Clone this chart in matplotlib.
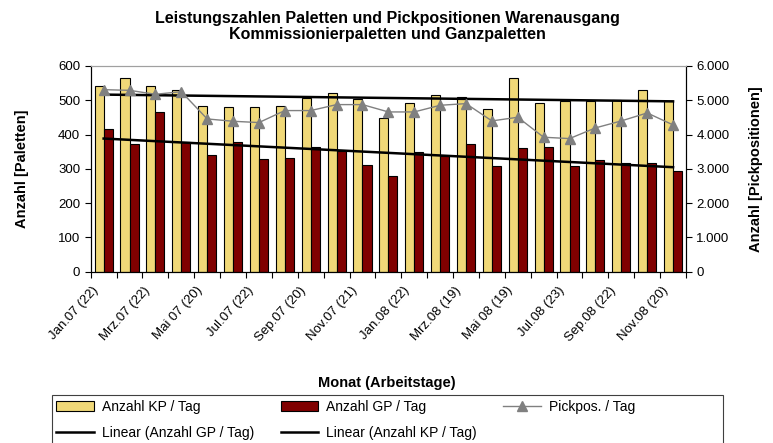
import matplotlib
matplotlib.use("Agg")
import matplotlib.pyplot as plt
import numpy as np
from matplotlib.patches import Rectangle
from matplotlib.ticker import FuncFormatter

plt.rcParams['font.family'] = ['Liberation Sans', 'DejaVu Sans']

# Daten
monate = ["Jan.07 (22)", "Feb.07", "Mrz.07 (22)", "Apr.07", "Mai 07 (20)", "Jun.07",
          "Jul.07 (22)", "Aug.07", "Sep.07 (20)", "Okt.07", "Nov.07 (21)", "Dez.07",
          "Jan.08 (22)", "Feb.08", "Mrz.08 (19)", "Apr.08", "Mai 08 (19)", "Jun.08",
          "Jul.08 (23)", "Aug.08", "Sep.08 (22)", "Okt.08", "Nov.08 (20)"]
kp = [542, 565, 542, 530, 482, 479, 479, 482, 508, 522, 503, 449,
      492, 516, 509, 475, 565, 492, 498, 498, 500, 529, 498]
gp = [415, 373, 466, 379, 339, 377, 330, 333, 365, 351, 310, 280,
      349, 337, 372, 307, 360, 365, 307, 326, 318, 318, 295]
pick = [5310, 5290, 5175, 5250, 4456, 4388, 4350, 4700, 4700, 4874, 4874, 4660,
        4660, 4854, 4903, 4398, 4505, 3922, 3883, 4194, 4398, 4631, 4282]

W, H = 773, 443
fig = plt.figure(figsize=(W / 100, H / 100), dpi=100)
ax = fig.add_axes([90.7 / W, 1 - 271.7 / H, (686 - 90.7) / W, (271.7 - 66) / H])

x = np.arange(len(monate))
bw = 0.35
b_kp = ax.bar(x - bw / 2, kp, bw, color='#F0D878', edgecolor='black', linewidth=0.8,
              label='Anzahl KP / Tag', zorder=2)
b_gp = ax.bar(x + bw / 2, gp, bw, color='#800000', edgecolor='black', linewidth=0.8,
              label='Anzahl GP / Tag', zorder=2)

# lineare Trends
k1 = np.polyfit(x, gp, 1)
k2 = np.polyfit(x, kp, 1)
lgp, = ax.plot(x, np.polyval(k1, x), color='black', lw=1.8, zorder=4,
               label='Linear (Anzahl GP / Tag)')
lkp, = ax.plot(x, np.polyval(k2, x), color='black', lw=1.8, zorder=4,
               label='Linear (Anzahl KP / Tag)')

ax.set_ylim(0, 600)
ax.set_xlim(-0.5, len(monate) - 0.5)
ax.set_yticks(range(0, 601, 100))

ax2 = ax.twinx()
lp, = ax2.plot(x, pick, color='#808080', lw=1.0, marker='^', markersize=7,
               markerfacecolor='#808080', markeredgecolor='#808080',
               label='Pickpos. / Tag', zorder=5)
ax2.set_ylim(0, 6000)
ax2.set_yticks(range(0, 6001, 1000))
ax2.yaxis.set_major_formatter(FuncFormatter(lambda v, p: f"{int(v):,}".replace(",", ".")))

# Beschriftung jeden zweiten Monat, etwas links vom Kategorienmittelpunkt
ax.set_xticks(x[::2] - 0.45)
ax.set_xticklabels(monate[::2], rotation=48, ha='right', rotation_mode='anchor', fontsize=9.5)
ax.set_xticks(np.arange(-0.5, len(monate)), minor=True)
ax.tick_params(axis='x', which='major', length=0, pad=9)
ax.tick_params(axis='x', which='minor', length=4, width=0.8)
ax.tick_params(axis='y', length=4, width=0.8, labelsize=9.5)
ax2.tick_params(axis='y', length=4, width=0.8, labelsize=9.5)

for a in (ax, ax2):
    a.spines['top'].set_color('#A0A0A0')
    a.spines['top'].set_linewidth(0.8)
    for s in ('left', 'right', 'bottom'):
        a.spines[s].set_linewidth(0.8)

ax.set_ylabel('Anzahl [Paletten]', fontsize=10.5, fontweight='bold')
ax2.set_ylabel('Anzahl [Pickpositionen]', fontsize=10.5, fontweight='bold')
ax.yaxis.set_label_coords((29 - 90.7) / (686 - 90.7), 0.5)
ax2.yaxis.set_label_coords((749 - 90.7) / (686 - 90.7), 0.5)

fig.text(387 / W, 1 - 18 / H, 'Leistungszahlen Paletten und Pickpositionen Warenausgang',
         ha='center', va='center', fontsize=11.5, fontweight='bold')
fig.text(387 / W, 1 - 35 / H, 'Kommissionierpaletten und Ganzpaletten',
         ha='center', va='center', fontsize=11.5, fontweight='bold')
fig.text(387 / W, 1 - 383 / H, 'Monat (Arbeitstage)', ha='center', va='center',
         fontsize=10.5, fontweight='bold')

handles = [b_kp, lgp, b_gp, lkp, lp]
labels = ['Anzahl KP / Tag', 'Linear (Anzahl GP / Tag)', 'Anzahl GP / Tag',
          'Linear (Anzahl KP / Tag)', 'Pickpos. / Tag']
fig.legend(handles, labels, ncol=3, loc='upper left',
           bbox_to_anchor=(52 / W, 1 - 396 / H), bbox_transform=fig.transFigure,
           frameon=False, fontsize=10, handlelength=2.7, handletextpad=0.6,
           columnspacing=1.9, labelspacing=0.85, borderpad=0.3, borderaxespad=0)
fig.patches.append(Rectangle((52 / W, -0.01), (723 - 52) / W, 0.01 + (443 - 395) / H,
                             transform=fig.transFigure, fill=False,
                             edgecolor='#404040', linewidth=0.8))

fig.savefig('out.png', dpi=100)
